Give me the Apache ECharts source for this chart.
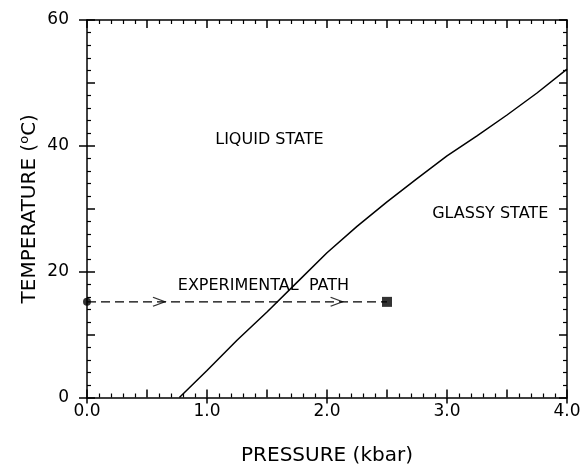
<!DOCTYPE html>
<html>
<head>
<meta charset="utf-8">
<script src="https://cdn.jsdelivr.net/npm/echarts@6/dist/echarts.min.js"></script>
<style>html,body{margin:0;padding:0;background:#fff}#c{width:585px;height:473px}</style>
</head>
<body>
<div id="c"></div>
<script>
// Glass transition line
const pressure    = [0.77, 1.0, 1.25, 1.5, 1.75, 2.0, 2.25, 2.5, 2.75, 3.0, 3.25, 3.5, 3.75, 4.0];
const temperature = [0, 4.3, 9.1, 13.6, 18.3, 23.0, 27.2, 31.1, 34.8, 38.4, 41.6, 44.9, 48.4, 52.2];
// Experimental path
const pathP = [0, 2.5];
const pathT = [15.2, 15.2];
const arrowP = [0.6, 2.08];
// Annotations
const labelTexts = ['LIQUID STATE', 'GLASSY STATE', 'EXPERIMENTAL  PATH'];
const labelP = [1.52, 3.36, 1.47];
const labelT = [40.9, 29.2, 17.7];

const FONT = 'DejaVu Sans';
const chart = echarts.init(document.getElementById('c'), null, {renderer: 'canvas'});

const axisCommon = {
  axisLine: {show: true, onZero: false, lineStyle: {color: '#000', width: 1.5}},
  axisTick: {show: true, inside: true, length: 8, lineStyle: {color: '#000', width: 1.5}},
  minorTick: {show: true, splitNumber: 5, length: 4, lineStyle: {color: '#000', width: 1.2}},
  axisLabel: {show: false},
  splitLine: {show: false}
};
const labelAxis = {
  offset: 0,
  axisLine: {show: false, onZero: false},
  axisTick: {show: true, inside: false, length: 6, lineStyle: {color: '#000', width: 1.5}},
  minorTick: {show: false},
  splitLine: {show: false}
};

const option = {
  animation: false,
  backgroundColor: '#fff',
  grid: {left: 87, right: 18, top: 20, bottom: 75.5, containLabel: false},
  xAxis: [
    Object.assign({}, axisCommon, {
      type: 'value', min: 0, max: 4, interval: 0.5, position: 'bottom', offset: 0,
      name: 'PRESSURE (kbar)', nameLocation: 'middle', nameGap: 48,
      nameTextStyle: {fontFamily: FONT, fontSize: 20, color: '#000'}
    }),
    Object.assign({}, axisCommon, {
      type: 'value', min: 0, max: 4, interval: 0.5, position: 'top', offset: 0
    }),
    Object.assign({}, labelAxis, {
      type: 'value', min: 0, max: 4, interval: 1, position: 'bottom',
      axisLabel: {fontFamily: FONT, fontSize: 17, color: '#000', margin: 6, formatter: v => v.toFixed(1)}
    })
  ],
  yAxis: [
    Object.assign({}, axisCommon, {
      type: 'value', min: 0, max: 60, interval: 10, position: 'left', offset: 0,
      name: '{t|TEMPERATURE (}{s|o}{t|C)}', nameLocation: 'middle', nameGap: 45, nameRotate: 90,
      nameTextStyle: {
        fontFamily: FONT, fontSize: 20, color: '#000',
        rich: {
          t: {fontFamily: FONT, fontSize: 20, color: '#000'},
          s: {fontFamily: FONT, fontSize: 13, color: '#000', verticalAlign: 'bottom', padding: [0, 0, 11, 0]}
        }
      }
    }),
    Object.assign({}, axisCommon, {
      type: 'value', min: 0, max: 60, interval: 10, position: 'right', offset: 0
    }),
    Object.assign({}, labelAxis, {
      type: 'value', min: 0, max: 60, interval: 20, position: 'left', axisTick: {show: true, inside: false, length: 8, lineStyle: {color: '#000', width: 1.5}},
      axisLabel: {fontFamily: FONT, fontSize: 17, color: '#000', margin: 18}
    })
  ],
  series: [
    {
      type: 'line', xAxisIndex: 0, yAxisIndex: 0, symbol: 'none', smooth: false,
      lineStyle: {color: '#000', width: 1.5},
      data: pressure.map((p, i) => [p, temperature[i]])
    },
    {
      type: 'line', xAxisIndex: 0, yAxisIndex: 0, symbol: 'none',
      lineStyle: {color: '#000', width: 1.3, type: [9, 5]},
      data: pathP.map((p, i) => [p, pathT[i]])
    },
    {
      type: 'scatter', symbol: 'circle', symbolSize: 8,
      itemStyle: {color: '#000'},
      data: [[pathP[0], pathT[0]]]
    },
    {
      type: 'scatter', symbol: 'rect', symbolSize: 10,
      itemStyle: {color: '#000'},
      data: [[pathP[1], pathT[1]]]
    },
    {
      type: 'scatter', symbol: 'path://M0,0 L12,4 L0,8', symbolSize: [12, 9], symbolKeepAspect: false,
      itemStyle: {color: 'none', borderColor: '#000', borderWidth: 1.3},
      data: arrowP.map(p => [p, pathT[0]])
    }
  ]
};
chart.setOption(option);

// Text annotations placed through the chart's own coordinate system
const texts = labelTexts.map((t, i) => {
  const pt = chart.convertToPixel({xAxisIndex: 0, yAxisIndex: 0}, [labelP[i], labelT[i]]);
  return {
    type: 'text', x: pt[0], y: pt[1], silent: true,
    style: {text: t, fill: '#000', font: '16px "' + FONT + '"', textAlign: 'center', textVerticalAlign: 'middle'}
  };
});
chart.setOption({graphic: {elements: texts}});
</script>
</body>
</html>
